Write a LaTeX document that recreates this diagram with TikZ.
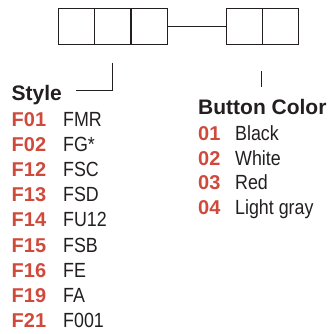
\documentclass[tikz,border=0pt]{standalone}
\usepackage{fontspec}
\setmainfont{Liberation Sans}
\newfontfamily\narrowfont[FakeStretch=0.87]{Liberation Sans}
\usetikzlibrary{positioning}
\definecolor{codered}{RGB}{208,74,60}
\definecolor{inkgray}{RGB}{35,31,32}
\tikzset{
  cell/.style={draw=inkgray,line width=0.9pt,minimum size=36pt,inner sep=0pt},
  head/.style={anchor=base west,inner sep=0pt,text=inkgray,font=\fontsize{21}{22}\selectfont\bfseries},
  code/.style={anchor=base west,inner sep=0pt,text=codered,font=\fontsize{20}{21}\selectfont\bfseries},
  item/.style={anchor=base west,inner sep=0pt,text=inkgray,font=\fontsize{20.5}{21}\selectfont\narrowfont},
}
\begin{document}
\begin{tikzpicture}[x=1pt,y=-1pt]
\useasboundingbox (0,0) rectangle (329,334);
% code boxes
\node[cell] (s1) at (76,26) {};
\node[cell,right=0pt of s1] (s2) {};
\node[cell,right=0pt of s2] (s3) {};
\node[cell] (c1) at (244,26) {};
\node[cell,right=0pt of c1] (c2) {};
\draw[inkgray,line width=0.9pt] (s3.east) -- (c1.west);
% leaders
\coordinate (stytop) at (112,63);
\coordinate (styend) at (76,90);
\coordinate (coltop) at (261,71);
\coordinate (colend) at (261,87);
\draw[inkgray,line width=0.8pt] (stytop) |- (styend);
\draw[inkgray,line width=0.8pt] (coltop) -- (colend);
% style list
\node[head] (sty) at (11.5,101) {Style};
\node[code] (f01) at (11.5,126) {F01};
\node[item] (fmr) at (63,126) {FMR};
\node[code] (f02) at (11.5,151.2) {F02};
\node[item] (fg) at (63,151.2) {FG*};
\node[code] (f12) at (11.5,176.4) {F12};
\node[item] (fsc) at (63,176.4) {FSC};
\node[code] (f13) at (11.5,201.6) {F13};
\node[item] (fsd) at (63,201.6) {FSD};
\node[code] (f14) at (11.5,226.8) {F14};
\node[item] (fu) at (63,226.8) {FU12};
\node[code] (f15) at (11.5,252) {F15};
\node[item] (fsb) at (63,252) {FSB};
\node[code] (f16) at (11.5,277.2) {F16};
\node[item] (fe) at (63,277.2) {FE};
\node[code] (f19) at (11.5,302.4) {F19};
\node[item] (fa) at (63,302.4) {FA};
\node[code] (f21) at (11.5,327.6) {F21};
\node[item] (fzero) at (63,327.6) {F001};
% button color list
\node[head] (col) at (198,114.5) {Button Color};
\node[code] (b01) at (198,140.5) {01};
\node[item] (black) at (235,140.5) {Black};
\node[code] (b02) at (198,165) {02};
\node[item] (white) at (235,165) {White};
\node[code] (b03) at (198,189.5) {03};
\node[item] (red) at (235,189.5) {Red};
\node[code] (b04) at (198,214) {04};
\node[item] (lgray) at (235,214) {Light gray};
\end{tikzpicture}
\end{document}
